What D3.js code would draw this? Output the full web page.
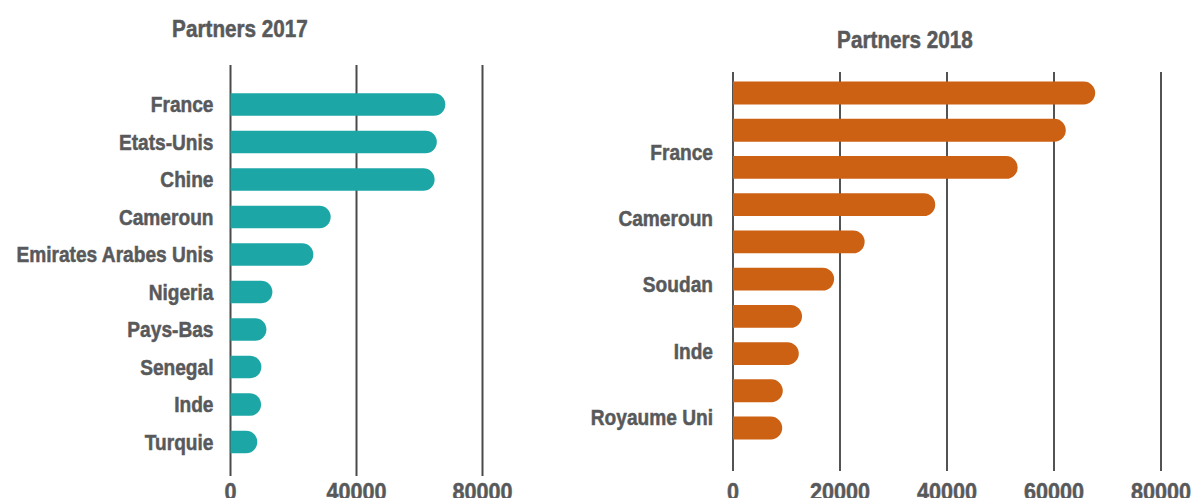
<!DOCTYPE html>
<html>
<head>
<meta charset="utf-8">
<script src="https://cdn.jsdelivr.net/npm/d3@7"></script>
<style>
  html, body { margin: 0; padding: 0; background: #fff; }
  svg { display: block; }
  text { font-family: "Liberation Sans", Arial, sans-serif; font-weight: bold; fill: #58595b;
         stroke: #58595b; stroke-width: 0.5px; paint-order: stroke; }
</style>
</head>
<body>
<svg id="chart" width="1199" height="498"></svg>
<script>
// Partner countries, 2017
const categories2017 = ["France", "Etats-Unis", "Chine", "Cameroun", "Emirates Arabes Unis",
  "Nigeria", "Pays-Bas", "Senegal", "Inde", "Turquie"];
const values2017 = [68200, 65500, 64800, 31800, 26300, 13300, 11400, 9800, 9700, 8500];
const ticks2017 = [0, 40000, 80000];

// Partner countries, 2018 (ten bars, every other one labelled)
const values2018 = [67700, 62200, 53200, 37800, 24600, 18900, 12900, 12300, 9300, 9200];
const labels2018 = ["France", "Cameroun", "Soudan", "Inde", "Royaume Uni"];
const ticks2018 = [0, 20000, 40000, 60000, 80000];

const svg = d3.select("#chart");

// Horizontal bar with a rounded right end
function barPath(x0, x1, y, h) {
  const r = Math.min(h / 2, (x1 - x0));
  return `M${x0},${y}H${x1 - r}A${r},${r} 0 0 1 ${x1},${y + r}` +
         `V${y + h - r}A${r},${r} 0 0 1 ${x1 - r},${y + h}H${x0}Z`;
}

// Condensed bold text: a regular bold face squeezed horizontally
function condensed(sel, x, y, squeeze) {
  return sel.attr("transform", (d, i) =>
    `translate(${typeof x === "function" ? x(d, i) : x},${typeof y === "function" ? y(d, i) : y}) scale(${squeeze},1)`);
}

function panel(opts) {
  const g = svg.append("g");
  const x = d3.scaleLinear().domain([0, 80000]).range(opts.xRange);
  const y = d3.scaleBand().domain(d3.range(opts.values.length))
    .range(opts.yRange).paddingInner(opts.padding).paddingOuter(0);

  // vertical grid lines
  g.append("g").selectAll("line").data(opts.ticks).join("line")
    .attr("x1", d => x(d)).attr("x2", d => x(d))
    .attr("y1", opts.gridTop).attr("y2", opts.gridBottom)
    .attr("stroke", opts.gridColor).attr("stroke-width", opts.gridWidth);

  // bars
  g.append("g").selectAll("path").data(opts.values).join("path")
    .attr("d", (d, i) => barPath(x(0), x(d), y(i), y.bandwidth()))
    .attr("fill", opts.color);

  // category labels
  const labels = g.append("g").selectAll("text").data(opts.labels).join("text")
    .attr("dy", "0.36em")
    .attr("text-anchor", "end")
    .style("font-size", "22px")
    .text(d => d);
  condensed(labels, opts.labelX, (d, i) => opts.labelY(d, i), 0.87);

  // value axis labels
  const tickLabels = g.append("g").selectAll("text").data(opts.ticks).join("text")
    .attr("text-anchor", "middle")
    .style("font-size", "24px")
    .text(d => d);
  condensed(tickLabels, d => x(d), opts.tickY, 0.9);

  // title
  const title = g.append("text")
    .attr("text-anchor", "middle")
    .style("font-size", "23px")
    .text(opts.title);
  condensed(title, opts.titleX, opts.titleY, 0.9);

  return { x, y };
}

panel({
  title: "Partners 2017", titleX: 240, titleY: 36.5,
  values: values2017, labels: categories2017, ticks: ticks2017,
  xRange: [230.5, 482.5], yRange: [93.25, 453.25], padding: 0.4,
  gridTop: 65, gridBottom: 476, gridColor: "#4a4a4a", gridWidth: 2,
  color: "#1ca7a6", labelX: 213.5,
  labelY: (d, i) => 93.25 + 11.25 + i * 37.5,
  tickY: 499.5
});

const labelScale2018 = d3.scalePoint().domain(labels2018).range([152, 417]);

panel({
  title: "Partners 2018", titleX: 905, titleY: 48.3,
  values: values2018, labels: labels2018, ticks: ticks2018,
  xRange: [733, 1161], yRange: [81.6, 439.4], padding: 0.387,
  gridTop: 72, gridBottom: 471, gridColor: "#1a1a1a", gridWidth: 1.5,
  color: "#cd6113", labelX: 713,
  labelY: d => labelScale2018(d),
  tickY: 499.5
});
</script>
</body>
</html>
